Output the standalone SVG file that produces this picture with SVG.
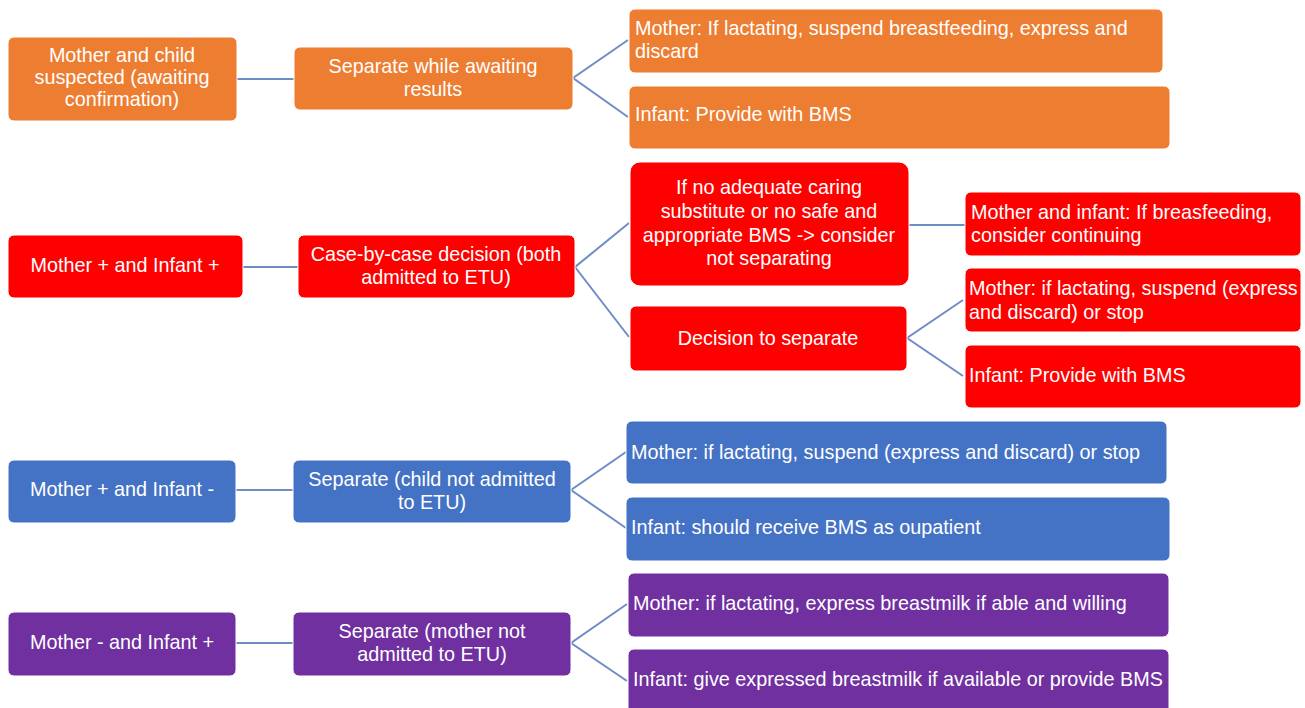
<svg xmlns="http://www.w3.org/2000/svg" width="1305" height="708" viewBox="0 0 1305 708">
<defs>
<style>
.o{fill:#ED7D31}.r{fill:#FF0000}.b{fill:#4472C4}.p{fill:#7030A0}
rect{stroke:#ffffff;stroke-width:1}
text{font-family:"Liberation Sans",Arial,sans-serif;font-size:19.8px;fill:#ffffff}
.c{text-anchor:middle}
.con line,.con polyline{stroke:#6E8CC6;stroke-width:2;fill:none}
</style>
</defs>
<rect x="0" y="0" width="1305" height="708" fill="#ffffff" style="stroke:none"/>
<g class="con">
<line x1="237" y1="79" x2="294" y2="79"/>
<polyline points="628,40 573,78 628,117"/>
<line x1="243" y1="267" x2="298" y2="267"/>
<polyline points="629,223 575,267 629,337"/>
<line x1="909" y1="225" x2="965" y2="225"/>
<polyline points="963,300 907,338 963,376"/>
<line x1="236" y1="490" x2="293" y2="490"/>
<polyline points="626,452 571,490 626,528"/>
<line x1="236" y1="643" x2="293" y2="643"/>
<polyline points="627,604 571,643 627,681"/>
</g>
<g id="a1"><rect class="o" x="8" y="37" width="229" height="84" rx="6"/>
<text class="c" x="122" y="55" dy="0.35em">Mother and child</text>
<text class="c" x="122" y="77" dy="0.35em">suspected (awaiting</text>
<text class="c" x="122" y="99" dy="0.35em">confirmation)</text></g>
<g id="a2"><rect class="o" x="294" y="47" width="279" height="63" rx="6"/>
<text class="c" x="433" y="66" dy="0.35em">Separate while awaiting</text>
<text class="c" x="433" y="89" dy="0.35em">results</text></g>
<g id="a3"><rect class="o" x="629" y="9" width="534" height="64" rx="6"/>
<text x="635" y="28" dy="0.35em">Mother: If lactating, suspend breastfeeding, express and</text>
<text x="635" y="51" dy="0.35em">discard</text></g>
<g id="a4"><rect class="o" x="629" y="86" width="541" height="63" rx="6"/>
<text x="635" y="114" dy="0.35em">Infant: Provide with BMS</text></g>
<g id="b1"><rect class="r" x="8" y="235" width="235" height="63" rx="6"/>
<text class="c" x="125" y="265" dy="0.35em">Mother + and Infant +</text></g>
<g id="b2"><rect class="r" x="298" y="235" width="277" height="63" rx="6"/>
<text class="c" x="436" y="254" dy="0.35em">Case-by-case decision (both</text>
<text class="c" x="436" y="277" dy="0.35em">admitted to ETU)</text></g>
<g id="b3"><rect class="r" x="630" y="162" width="279" height="124" rx="10"/>
<text class="c" x="769" y="187" dy="0.35em">If no adequate caring</text>
<text class="c" x="769" y="211" dy="0.35em">substitute or no safe and</text>
<text class="c" x="769" y="235" dy="0.35em">appropriate BMS -&gt; consider</text>
<text class="c" x="769" y="258" dy="0.35em">not separating</text></g>
<g id="b4"><rect class="r" x="630" y="306" width="277" height="65" rx="6"/>
<text class="c" x="768" y="338" dy="0.35em">Decision to separate</text></g>
<g id="b5"><rect class="r" x="965" y="192" width="336" height="64" rx="6"/>
<text x="971" y="212" dy="0.35em">Mother and infant: If breasfeeding,</text>
<text x="971" y="235" dy="0.35em">consider continuing</text></g>
<g id="b6"><rect class="r" x="965" y="268" width="336" height="64" rx="6"/>
<text x="969" y="288" dy="0.35em">Mother: if lactating, suspend (express</text>
<text x="969" y="312" dy="0.35em">and discard) or stop</text></g>
<g id="b7"><rect class="r" x="965" y="345" width="336" height="63" rx="6"/>
<text x="969" y="375" dy="0.35em">Infant: Provide with BMS</text></g>
<g id="c1"><rect class="b" x="8" y="460" width="228" height="63" rx="6"/>
<text class="c" x="122" y="489" dy="0.35em">Mother + and Infant -</text></g>
<g id="c2"><rect class="b" x="293" y="460" width="278" height="63" rx="6"/>
<text class="c" x="432" y="479" dy="0.35em">Separate (child not admitted</text>
<text class="c" x="432" y="502" dy="0.35em">to ETU)</text></g>
<g id="c3"><rect class="b" x="626" y="421" width="541" height="63" rx="6"/>
<text x="631" y="452" dy="0.35em">Mother: if lactating, suspend (express and discard) or stop</text></g>
<g id="c4"><rect class="b" x="626" y="497" width="544" height="64" rx="6"/>
<text x="631" y="527" dy="0.35em">Infant: should receive BMS as oupatient</text></g>
<g id="d1"><rect class="p" x="8" y="612" width="228" height="64" rx="6"/>
<text class="c" x="122" y="642" dy="0.35em">Mother - and Infant +</text></g>
<g id="d2"><rect class="p" x="293" y="612" width="278" height="64" rx="6"/>
<text class="c" x="432" y="631" dy="0.35em">Separate (mother not</text>
<text class="c" x="432" y="654" dy="0.35em">admitted to ETU)</text></g>
<g id="d3"><rect class="p" x="628" y="573" width="541" height="64" rx="6"/>
<text x="633" y="603" dy="0.35em">Mother: if lactating, express breastmilk if able and willing</text></g>
<g id="d4"><rect class="p" x="628" y="649" width="541" height="70" rx="6"/>
<text x="633" y="679" dy="0.35em">Infant: give expressed breastmilk if available or provide BMS</text></g>
</svg>
